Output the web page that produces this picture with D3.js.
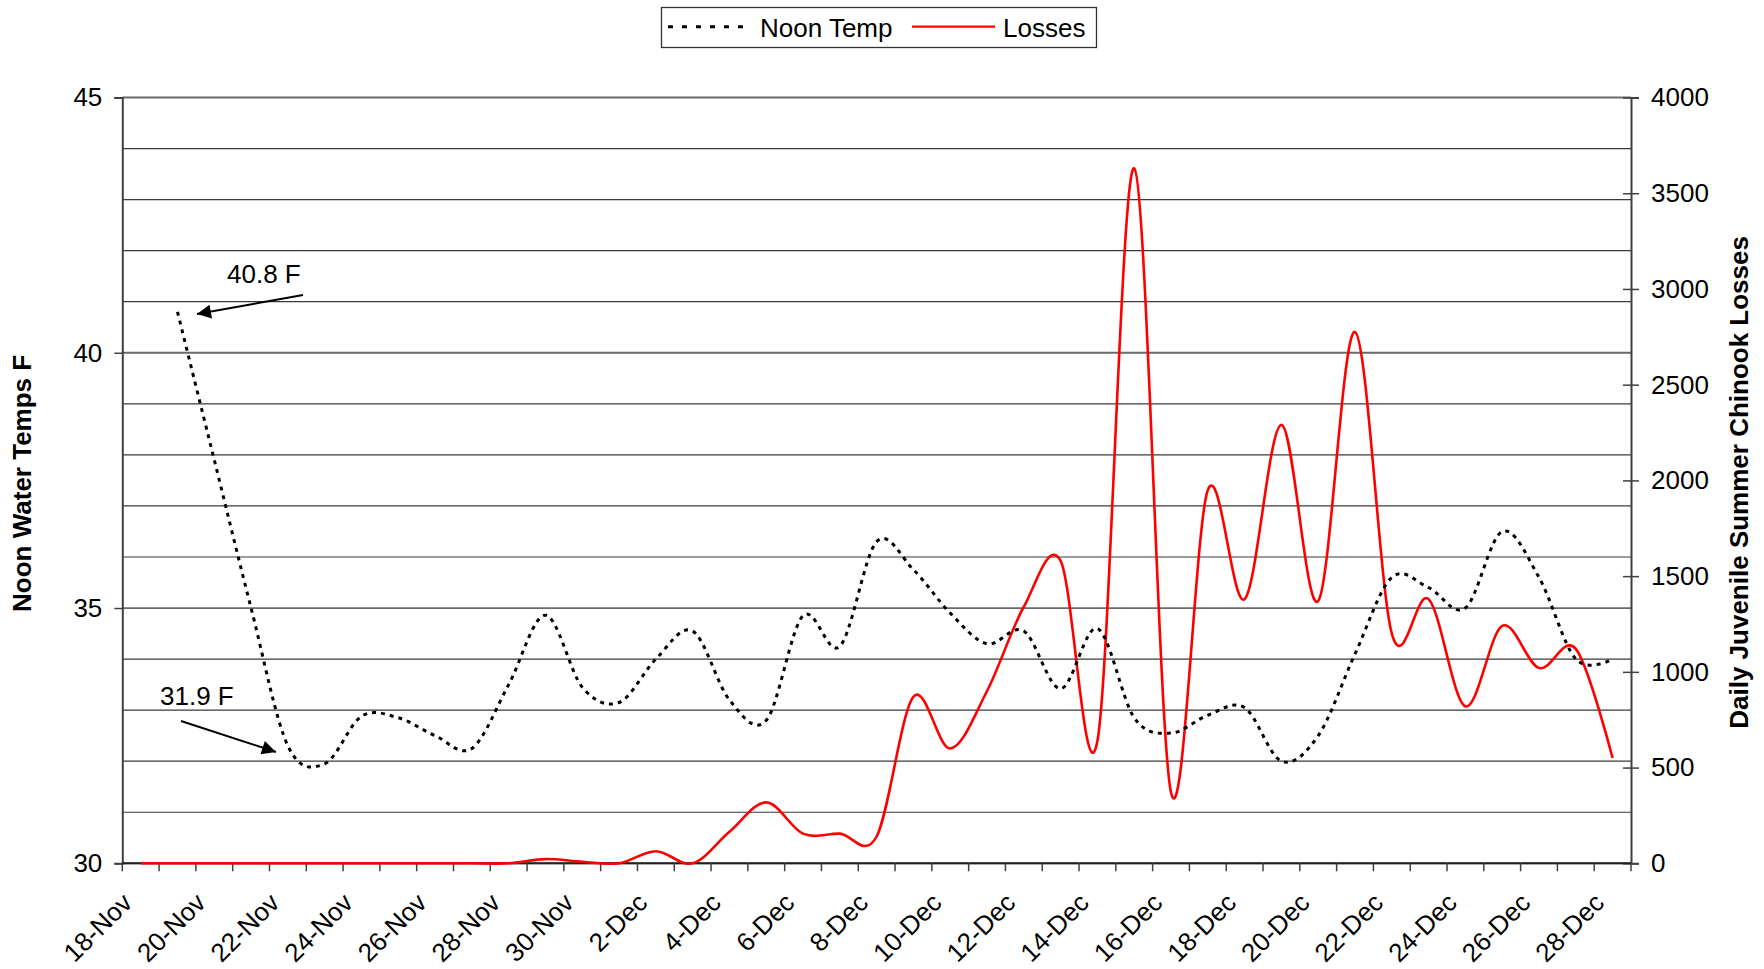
<!DOCTYPE html>
<html>
<head>
<meta charset="utf-8">
<script src="https://cdn.jsdelivr.net/npm/d3@7/dist/d3.min.js"></script>
<style>
  html, body { margin: 0; padding: 0; background: #fff; }
  svg { display: block; }
  text { font-family: "Liberation Sans", Arial, sans-serif; fill: #000; }
</style>
</head>
<body>
<svg id="chart" width="1764" height="969"></svg>
<script>
// ---------------- data ----------------
const categories = [
  "18-Nov","19-Nov","20-Nov","21-Nov","22-Nov","23-Nov","24-Nov","25-Nov","26-Nov","27-Nov",
  "28-Nov","29-Nov","30-Nov","1-Dec","2-Dec","3-Dec","4-Dec","5-Dec","6-Dec","7-Dec",
  "8-Dec","9-Dec","10-Dec","11-Dec","12-Dec","13-Dec","14-Dec","15-Dec","16-Dec","17-Dec",
  "18-Dec","19-Dec","20-Dec","21-Dec","22-Dec","23-Dec","24-Dec","25-Dec","26-Dec","27-Dec","28-Dec"
];
const noonTemp = [
  null, 40.8, 37.9, 35.0, 32.3, 31.95, 32.88, 32.85, 32.5, 32.25,
  33.5, 34.86, 33.45, 33.15, 34.0, 34.55, 33.2, 32.8, 34.85, 34.25,
  36.3, 35.75, 34.9, 34.3, 34.55, 33.42, 34.6, 32.85, 32.55, 32.9,
  33.05, 32.0, 32.5, 34.1, 35.6, 35.4, 35.0, 36.5, 35.6, 34.0, 34.0
];
const losses = [
  0, 0, 0, 0, 0, 0, 0, 0, 0, 0,
  0, 22, 8, 0, 63, 0, 165, 318, 155, 155,
  140, 870, 600, 900, 1340, 1580, 640, 3630, 370, 1950,
  1380, 2290, 1370, 2775, 1200, 1380, 820, 1240, 1020, 1120, 550
];
const xTickLabels = categories.filter((d, i) => i % 2 === 0);
const leftTicks = [30, 35, 40, 45];
const leftGrid = d3.range(30, 46, 1);
const rightTicks = [0, 500, 1000, 1500, 2000, 2500, 3000, 3500, 4000];
const seriesNames = ["Noon Temp", "Losses"];
const annotations = [
  { text: "40.8 F", tx: 227, ty: 283, x1: 303, y1: 295, x2: 197, y2: 314 },
  { text: "31.9 F", tx: 160, ty: 705, x1: 181, y1: 721, x2: 276, y2: 752 }
];

// ---------------- layout ----------------
const L = 122.3, R = 1631, T = 97.5, B = 863.3;
const FS = 26;
const svg = d3.select("#chart");

const x = d3.scaleBand().domain(categories).range([L, R]).padding(0);
const cx = d => x(d) + x.bandwidth() / 2;
const yL = d3.scaleLinear().domain([30, 45]).range([B, T]);
const yR = d3.scaleLinear().domain([0, 4000]).range([B, T]);

// gridlines
svg.append("g").selectAll("line").data(leftGrid).join("line")
  .attr("x1", L).attr("x2", R)
  .attr("y1", d => yL(d)).attr("y2", d => yL(d))
  .attr("stroke", d => d % 5 === 0 ? "#6a6a6a" : "#3a3a3a")
  .attr("stroke-width", d => d % 5 === 0 ? 1.8 : 1.2);

// left axis
const gL = svg.append("g").attr("transform", `translate(${L},0)`)
  .call(d3.axisLeft(yL).tickValues(leftTicks).tickSize(8).tickPadding(12).tickFormat(d3.format("d")));
gL.select(".domain").attr("stroke", "#404040").attr("stroke-width", 2);
gL.selectAll(".tick line").attr("stroke", "#404040").attr("stroke-width", 1.5);
gL.selectAll(".tick text").attr("font-size", FS).attr("font-family", "Liberation Sans, Arial, sans-serif");

// right axis
const gR = svg.append("g").attr("transform", `translate(${R},0)`)
  .call(d3.axisRight(yR).tickValues(rightTicks).tickSize(8).tickPadding(12).tickFormat(d3.format("d")));
gR.select(".domain").attr("stroke", "#404040").attr("stroke-width", 2);
gR.selectAll(".tick line").attr("x1", -8).attr("stroke", "#404040").attr("stroke-width", 1.5);
gR.selectAll(".tick text").attr("font-size", FS).attr("font-family", "Liberation Sans, Arial, sans-serif");

// bottom axis (ticks at category boundaries)
const boundaries = categories.map(d => x(d)).concat([R]);
svg.append("line").attr("x1", L).attr("x2", R).attr("y1", B).attr("y2", B)
  .attr("stroke", "#202020").attr("stroke-width", 2);
svg.append("g").selectAll("line").data(boundaries).join("line")
  .attr("x1", d => d).attr("x2", d => d).attr("y1", B).attr("y2", B + 8)
  .attr("stroke", "#404040").attr("stroke-width", 1.5);
svg.append("g").selectAll("text").data(xTickLabels).join("text")
  .attr("transform", d => `translate(${cx(d) - 7},${B + 41}) rotate(-45)`)
  .attr("text-anchor", "end")
  .attr("font-size", FS)
  .text(d => d);

// axis titles
svg.append("text")
  .attr("transform", `translate(31,${(T + B) / 2 + 3}) rotate(-90)`)
  .attr("text-anchor", "middle").attr("font-weight", "bold").attr("font-size", FS)
  .text("Noon Water Temps F");
svg.append("text")
  .attr("transform", `translate(1748,${(T + B) / 2 + 2}) rotate(-90)`)
  .attr("text-anchor", "middle").attr("font-weight", "bold").attr("font-size", FS)
  .text("Daily Juvenile Summer Chinook Losses");

// series
const curve = d3.curveCatmullRom.alpha(0);
const tempPts = categories.map((c, i) => ({ c, v: noonTemp[i] })).filter(d => d.v !== null);
const lossPts = categories.map((c, i) => ({ c, v: losses[i] }));

svg.append("path").datum(lossPts)
  .attr("fill", "none").attr("stroke", "#ff0000").attr("stroke-width", 2.6)
  .attr("d", d3.line().x(d => cx(d.c)).y(d => yR(d.v)).curve(curve));

svg.append("path").datum(tempPts)
  .attr("fill", "none").attr("stroke", "#000").attr("stroke-width", 3)
  .attr("stroke-dasharray", "4,5")
  .attr("d", d3.line().x(d => cx(d.c)).y(d => yL(d.v)).curve(curve));

// annotations
const defs = svg.append("defs");
defs.append("marker").attr("id", "arrow")
  .attr("viewBox", "0 0 10 10").attr("refX", 10).attr("refY", 5)
  .attr("markerWidth", 8).attr("markerHeight", 7).attr("markerUnits", "strokeWidth")
  .attr("orient", "auto")
  .append("path").attr("d", "M0,0 L10,5 L0,10 Z").attr("fill", "#000");
annotations.forEach(a => {
  svg.append("text").attr("x", a.tx).attr("y", a.ty).attr("font-size", FS).text(a.text);
  svg.append("line").attr("x1", a.x1).attr("y1", a.y1).attr("x2", a.x2).attr("y2", a.y2)
    .attr("stroke", "#000").attr("stroke-width", 2).attr("marker-end", "url(#arrow)");
});

// legend
const lg = svg.append("g");
lg.append("rect").attr("x", 661.5).attr("y", 7.5).attr("width", 435).attr("height", 40)
  .attr("fill", "#fff").attr("stroke", "#333").attr("stroke-width", 1.3);
lg.append("line").attr("x1", 668).attr("x2", 751).attr("y1", 26.7).attr("y2", 26.7)
  .attr("stroke", "#000").attr("stroke-width", 3).attr("stroke-dasharray", "5,9");
lg.append("text").attr("x", 760).attr("y", 36.5).attr("font-size", FS).text(seriesNames[0]);
lg.append("line").attr("x1", 912).attr("x2", 995).attr("y1", 26.7).attr("y2", 26.7)
  .attr("stroke", "#ff0000").attr("stroke-width", 2.2);
lg.append("text").attr("x", 1003).attr("y", 36.5).attr("font-size", FS).text(seriesNames[1]);
</script>
</body>
</html>
